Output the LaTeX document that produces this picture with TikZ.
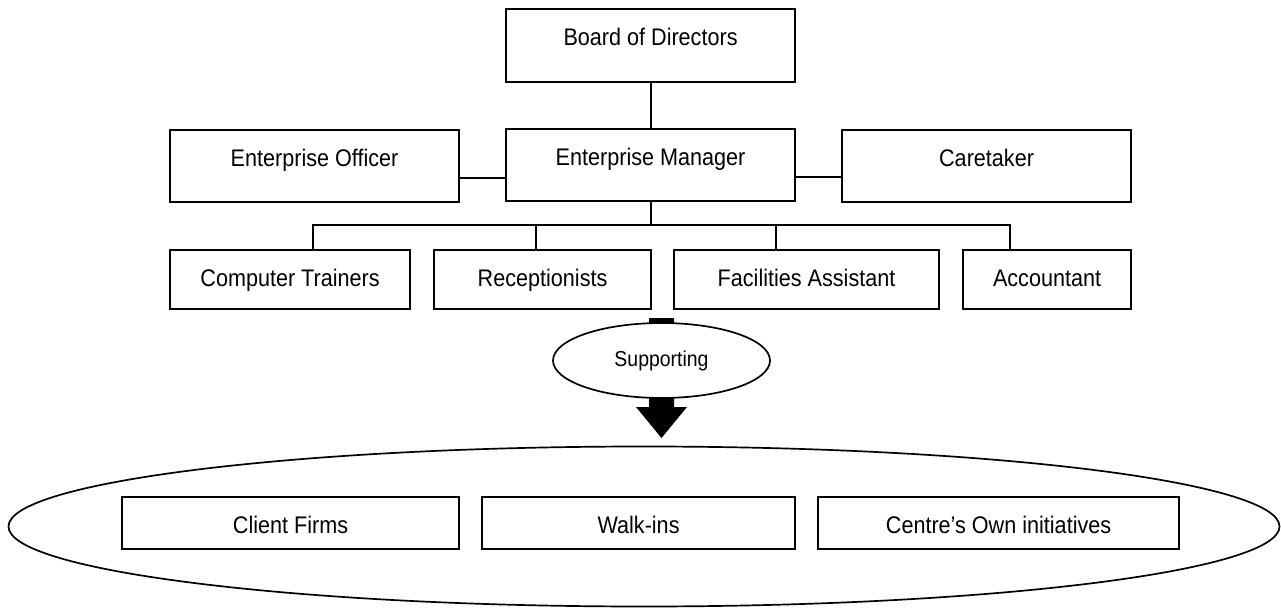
\documentclass[tikz,border=0pt]{standalone}
\usepackage{fontspec}
\setmainfont{Liberation Sans}
\newfontfamily\narrowfont[FakeStretch=0.9]{Liberation Sans}
\usetikzlibrary{shapes.geometric}
\begin{document}
\begin{tikzpicture}[x=1pt,y=-1pt,
  box/.style={draw, line width=2.1pt, inner xsep=0pt, inner ysep=0pt, anchor=north west,
              font=\narrowfont\fontsize{24}{26}\selectfont, text height=36pt},
  tall/.style={text depth=37pt},
  mid/.style={text depth=36pt},
  low/.style={text depth=23pt},
  bot/.style={text depth=16pt},
  conn/.style={line width=2.1pt}]
\useasboundingbox (0,0) rectangle (1281,609);
% top levels
\node[box,tall,minimum width=289pt] (board) at (505,8) {Board of Directors};
\node[box,mid,minimum width=289pt] (em) at (505,128) {Enterprise Manager};
\node[box,mid,minimum width=289pt] (eo) at (169,129) {Enterprise Officer};
\node[box,mid,minimum width=289pt] (care) at (841,129) {Caretaker};
% staff row
\node[box,low,minimum width=240pt] (ct) at (169,249) {Computer Trainers};
\node[box,low,minimum width=217pt] (rec) at (433,249) {Receptionists};
\node[box,low,minimum width=265pt] (fac) at (673,249) {Facilities Assistant};
\node[box,low,minimum width=168pt] (acc) at (962,249) {Accountant};
% connectors
\draw[conn] (board.south) -- (em.north);
\draw[conn] ([yshift=-12pt]eo.east) -- ([yshift=-12pt]eo.east -| em.west);
\draw[conn] ([yshift=-12pt]em.east) -- ([yshift=-12pt]em.east -| care.west);
\coordinate (t1) at (313,225);
\coordinate (t2) at (536,225);
\coordinate (t3) at (776,225);
\coordinate (t4) at (1010,225);
\draw[conn] (em.south) -- (em.south |- t1);
\draw[conn,line cap=rect] (t1) -- (t4);
\draw[conn] (t1) -- (t1 |- ct.north);
\draw[conn] (t2) -- (t2 |- rec.north);
\draw[conn] (t3) -- (t3 |- fac.north);
\draw[conn] (t4) -- (t4 |- acc.north);
% block arrow
\fill (649,318) -- (674,318) -- (674,407) -- (687,407) -- (661.5,438) -- (636,407) -- (649,407) -- cycle;
\node[draw, ellipse, fill=white, line width=1.7pt, inner sep=0pt, minimum width=217pt, minimum height=75pt,
      font=\narrowfont\fontsize{21.6}{24}\selectfont] (sup) at (661.5,360.5) {Supporting};
% target group
\node[draw, ellipse, line width=1.7pt, inner sep=0pt, minimum width=1271pt, minimum height=160pt] (target) at (644,526.5) {};
\node[box,bot,minimum width=337pt] (cf) at (121,496) {Client Firms};
\node[box,bot,minimum width=313pt] (wi) at (481,496) {Walk-ins};
\node[box,bot,minimum width=361pt] (co) at (817,496) {Centre’s Own initiatives};
\end{tikzpicture}
\end{document}
